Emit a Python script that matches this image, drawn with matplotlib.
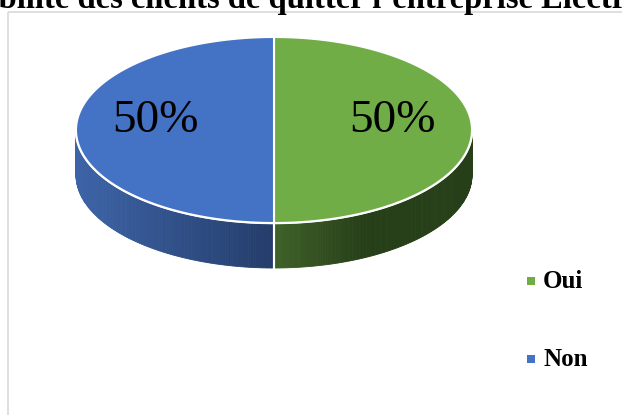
import numpy as np
import matplotlib
matplotlib.use("Agg")
import matplotlib.pyplot as plt
from matplotlib.patches import Polygon, Rectangle
from matplotlib.colors import to_rgb

# ---- data ----
categories = ["Oui", "Non"]
values = [50, 50]
colors_top = ["#70ad47", "#4472c4"]
side_light = ["#3f6229", "#3d64a8"]
side_dark = ["#263f18", "#243c6a"]
title_prefix = "Proba"
title = "Probabilité des clients de quitter l\u2019entreprise Electroplanet"

W, H = 622, 415
fig = plt.figure(figsize=(W / 100, H / 100), dpi=100)
ax = fig.add_axes([0, 0, 1, 1])
ax.set_xlim(0, W)
ax.set_ylim(H, 0)
ax.axis("off")

# chart frame
ax.add_patch(Rectangle((8, 12), 700, 500, fill=False, ec="#d9d9d9", lw=1.2, zorder=0))

cx, cy, rx, ry, depth = 274, 130, 198, 93, 45

def pt(theta, dy=0.0):
    t = np.radians(theta)
    return cx + rx * np.cos(t), cy - ry * np.sin(t) + dy

total = float(sum(values))
start = 90.0
angles = []
for v in values:
    span = 360.0 * v / total
    angles.append((start - span, start))
    start -= span

# sides (front half)
for i, (a0, a1) in enumerate(angles):
    lo, hi = a0 % 360, a0 % 360 + (a1 - a0)
    for base in (180, 540, -180):
        s = max(lo, base)
        e = min(hi, base + 180)
        if e <= s:
            continue
        n = 120
        ts = np.linspace(s, e, n + 1)
        xs_all = [pt(t)[0] for t in ts]
        xmin, xmax = min(xs_all), max(xs_all)
        c0, c1 = np.array(to_rgb(side_light[i])), np.array(to_rgb(side_dark[i]))
        for k in range(n):
            t0, t1 = ts[k], ts[k + 1]
            p0, p1 = pt(t0), pt(t1)
            poly = [p0, p1, (p1[0], p1[1] + depth), (p0[0], p0[1] + depth)]
            xm = 0.5 * (p0[0] + p1[0])
            f = (xm - xmin) / max(xmax - xmin, 1e-9)
            if i == 0:
                f = min(1.0, f * 2.2)
            col = c0 + (c1 - c0) * f
            ax.add_patch(Polygon(poly, closed=True, fc=col, ec=col, lw=0.6, zorder=2))

# seam lines on side
for (a0, a1) in angles:
    for a in (a0, a1):
        if np.sin(np.radians(a)) < -1e-6:
            x, y = pt(a)
            ax.plot([x, x], [y, y + depth], color="white", lw=1.5, zorder=3)
# front edge white line
ts = np.linspace(180, 360, 200)
ax.plot([pt(t)[0] for t in ts], [pt(t)[1] for t in ts], color="white", lw=1.8, zorder=3)

# top face
for i, (a0, a1) in enumerate(angles):
    ts = np.linspace(a0, a1, 200)
    poly = [(cx, cy)] + [pt(t) for t in ts]
    ax.add_patch(Polygon(poly, closed=True, fc=colors_top[i], ec="white", lw=1.5, zorder=4))

# labels
for i, (a0, a1) in enumerate(angles):
    mid = np.radians(0.5 * (a0 + a1))
    frac = values[i] / total
    x = cx + 0.6 * rx * np.cos(mid)
    y = cy - 0.6 * ry * np.sin(mid) - 9
    ax.text(x, y, f"{frac * 100:.0f}%", fontsize=34, family="Liberation Serif",
            ha="center", va="center", zorder=5)

# legend
for i, name in enumerate(categories):
    ly = 281 + 78 * i
    ax.add_patch(Rectangle((527, ly - 4), 8, 8, fc=colors_top[i], ec="none"))
    ax.text(543, ly, name, fontsize=18, family="Liberation Serif", weight="bold",
            ha="left", va="center")

# title (clipped at the top and at the sides, as in the reference)
tfs = 23.5
renderer = fig.canvas.get_renderer()
probe = ax.text(0, 0, title_prefix, fontsize=tfs, family="Liberation Serif", weight="bold")
pw = probe.get_window_extent(renderer=renderer).width
probe.remove()
ax.text(-pw - 1, 8, title, fontsize=tfs, family="Liberation Serif", weight="bold",
        ha="left", va="baseline", clip_on=False)

fig.savefig("out.png", dpi=100)
